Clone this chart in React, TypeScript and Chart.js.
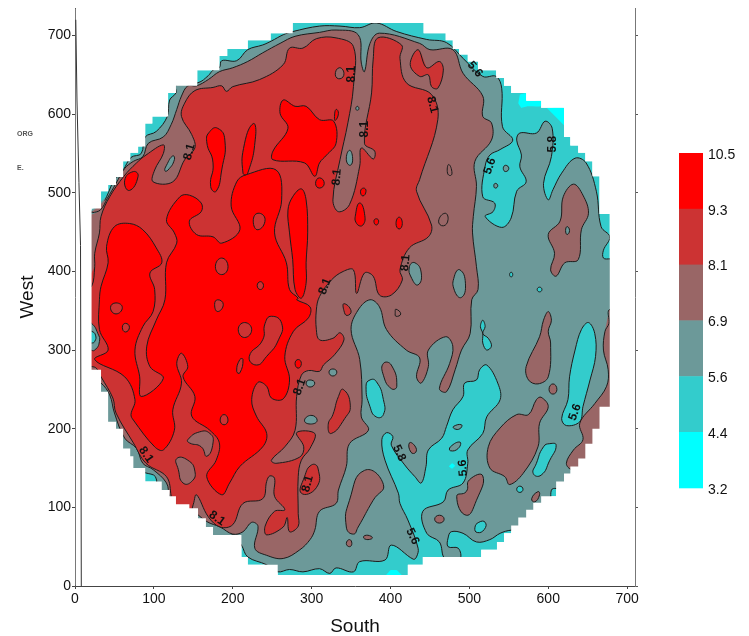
import React, { useEffect, useRef } from "react";
import { Chart, registerables } from "chart.js";

Chart.register(...registerables);

type P = [number, number][];

const xTickLabelFont = "Liberation Sans";
const xTicks = [0, 100, 200, 300, 400, 500, 600, 700];
const yTicks = [0, 100, 200, 300, 400, 500, 600, 700];
const legendValues = ["10.5", "9.3", "8.1", "6.9", "5.6", "4.4", "3.2"];
const C93 = "#FF0000", C81 = "#CC3333", C69 = "#996666", C56 = "#6C9999", C44 = "#33CCCC", C32 = "#00FFFF";
const legendColors = [C93, C81, C69, C56, C44, C32];

const waferEdge: P = [[21,480],[33,480],[33,502],[42,502],[42,510],[52,510],[52,520],[61,520],[61,540],[70,540],[70,551],[80,551],[80,559],[89,559],[89,588],[98,588],[98,597],[118,597],[118,627],[128,627],[128,636],[155,636],[155,656],[183,656],[183,674],[193,674],[193,683],[219,683],[219,694],[248,694],[248,703],[276,703],[276,716],[442,716],[442,703],[470,703],[470,694],[479,694],[479,683],[487,683],[487,676],[498,676],[498,667],[511,667],[511,656],[534,656],[534,646],[544,646],[544,636],[553,636],[553,627],[572,627],[572,617],[591,617],[591,608],[620,608],[620,571],[628,571],[628,560],[638,560],[638,551],[647,551],[647,540],[656,540],[656,521],[665,521],[665,473],[678,473],[678,228],[665,228],[665,200],[656,200],[656,181],[647,181],[647,162],[638,162],[638,152],[628,152],[628,143],[620,143],[620,133],[610,133],[610,114],[591,114],[591,106],[581,106],[581,97],[572,97],[572,87],[562,87],[562,77],[553,77],[553,67],[544,67],[544,56],[535,56],[535,46],[515,46],[515,37],[441,37],[441,27],[422,27],[422,14],[257,14],[257,27],[219,27],[219,37],[211,37],[211,65],[175,65],[175,75],[166,75],[166,86],[156,86],[156,99],[145,99],[145,104],[128,104],[128,114],[120,114],[120,122],[110,122],[110,133],[89,133],[89,150],[74,150],[74,165],[70,165],[70,175],[61,175],[61,200],[52,200],[52,209],[42,209],[42,247],[33,247],[33,275],[21,275],[21,480]];

const leftTrace: P = [[1,720],[2.5,618],[5,513],[7,433],[8,0]];

const cyanPatches: P[] = [
  [[564,625],[572,627],[572,617],[591,617],[591,610],[574,610],[566,608],[562,614]],
  [[598,608],[620,608],[620,586]],
  [[393,12],[400,20],[408,20],[416,12]],
  [[474,152],[478,156],[482,153],[478,149]],
];

const band56: P = [[31,479],[40,495],[50,517],[61,529],[71,545],[84,550],[89,571],[103,578],[117,597],[120,618],[128,627],[128,637],[156,640],[169,649],[175,656],[183,659],[186,668],[205,668],[219,682],[238,688],[249,693],[264,701],[276,705],[310,712],[336,712],[361,710],[382,716],[408,705],[446,695],[471,691],[492,671],[517,648],[534,648],[541,633],[542,584],[555,567],[539,555],[526,548],[520,534],[517,495],[532,487],[530,476],[520,470],[541,456],[553,468],[560,502],[572,514],[564,533],[566,548],[560,567],[564,576],[585,576],[596,591],[605,582],[604,546],[594,512],[600,491],[606,504],[617,525],[634,544],[648,538],[661,502],[667,457],[678,444],[670,427],[670,417],[679,416],[690,416],[692,350],[692,270],[692,190],[690,120],[615,120],[610,124],[604,122],[602,100],[585,85],[565,70],[553,71],[539,67],[526,59],[509,56],[492,67],[477,69],[473,61],[473,50],[486,48],[488,35],[469,35],[462,56],[446,67],[441,95],[467,107],[473,122],[492,131],[498,156],[498,173],[517,194],[522,215],[539,237],[536,258],[522,281],[513,275],[509,262],[494,258],[492,241],[479,224],[471,203],[465,188],[448,173],[445,152],[439,131],[431,139],[418,154],[401,179],[403,190],[395,195],[389,186],[393,160],[410,118],[412,105],[422,84],[435,48],[433,37],[429,34],[401,52],[393,33],[361,31],[353,18],[331,23],[323,16],[310,22],[289,18],[272,21],[257,18],[243,27],[219,37],[211,52],[200,65],[190,55],[170,60],[150,75],[125,95],[105,120],[102,139],[89,144],[85,145],[65,155],[45,195],[25,260],[12,300],[12,380],[12,470],[31,479]];

const lakes44: P[] = [
  [[517,338],[520,330],[517,321],[524,315],[528,305],[522,300],[517,309],[517,321],[514,330],[517,338]],
  [[651,335],[659,321],[660,292],[653,262],[644,228],[640,209],[623,204],[617,213],[625,237],[627,266],[634,300],[642,326],[651,335]],
  [[374,262],[382,260],[391,237],[391,218],[382,215],[374,228],[369,254],[374,262]],
  [[602,181],[610,179],[602,160],[591,141],[581,143],[585,156],[594,177],[602,181]],
  [[564,127],[568,123],[564,119],[560,123],[564,127]],
  [[520,81],[519,72],[510,68],[507,74],[512,81],[520,81]],
  [[553,399],[555,396],[553,393],[551,396],[553,399]],
  [[589,380],[592,377],[589,374],[586,377],[589,380]],
];

const lakeIslands56: P[] = [
  [[480,203],[490,205],[488,200],[481,200],[480,203]],
  [[476,177],[488,183],[486,175],[476,172],[476,177]],
  [[546,535],[550,531],[546,527],[543,531],[546,535]],
  [[533,512],[536,509],[533,506],[531,509],[533,512]],
];

const band69: P = [[32,478],[41,493],[52,512],[63,531],[74,540],[86,546],[93,563],[112,571],[122,587],[129,606],[135,623],[143,636],[154,636],[169,644],[183,654],[200,659],[219,667],[238,678],[260,690],[279,699],[310,704],[331,707],[359,701],[363,665],[367,654],[374,690],[386,703],[437,690],[450,682],[479,682],[492,652],[517,623],[517,597],[528,589],[528,567],[507,540],[509,508],[505,470],[504,449],[509,406],[511,377],[503,364],[501,321],[490,300],[482,275],[471,247],[462,251],[475,283],[479,305],[470,317],[448,300],[448,279],[439,258],[433,266],[437,290],[420,300],[395,326],[386,355],[374,364],[359,351],[350,326],[361,288],[364,237],[363,215],[372,198],[348,181],[344,152],[334,122],[331,105],[310,95],[304,71],[298,59],[285,46],[264,35],[243,39],[228,48],[232,76],[224,81],[213,69],[200,66],[184,75],[167,82],[145,99],[126,107],[120,114],[116,131],[99,148],[86,156],[78,175],[63,188],[50,220],[44,243],[33,258],[25,260],[15,280],[13,380],[15,470],[32,478]];

const islands69: P[] = [
  [[632,511],[644,497],[651,474],[642,453],[638,415],[621,411],[610,394],[603,402],[608,423],[600,447],[615,464],[619,495],[632,511]],
  [[600,349],[604,338],[600,324],[603,309],[600,266],[587,257],[575,262],[572,279],[589,317],[594,338],[600,349]],
  [[677,334],[672,324],[670,300],[676,275],[674,254],[659,232],[640,207],[644,186],[632,173],[623,156],[630,148],[648,152],[691,194],[691,351],[677,351],[677,334]],
  [[591,240],[600,228],[589,207],[587,177],[568,143],[551,129],[545,139],[526,150],[524,177],[539,201],[560,218],[575,218],[585,237],[591,240]],
  [[517,140],[509,109],[496,90],[484,114],[496,120],[500,135],[517,140]],
  [[367,147],[391,129],[378,109],[359,75],[353,66],[344,75],[348,109],[367,147]],
  [[391,283],[401,281],[408,254],[401,251],[391,268],[391,283]],
  [[606,257],[611,250],[606,244],[601,250],[606,257]],
  [[462,90],[468,85],[462,80],[456,85],[462,90]],
  [[587,120],[589,116],[583,107],[579,111],[587,120]],
  [[367,64],[376,63],[376,60],[367,60],[367,64]],
  [[348,59],[351,54],[348,50],[344,54],[348,59]],
  [[424,182],[431,178],[432,170],[426,170],[424,182]],
  [[407,352],[413,346],[407,343],[406,348],[407,352]],
  [[474,536],[478,525],[475,522],[472,527],[474,536]],
  [[469,474],[473,466],[467,458],[461,464],[469,474]],
];

const band81: P = [[21,381],[25,406],[25,423],[31,449],[33,470],[44,495],[62,521],[78,538],[90,548],[112,561],[112,550],[101,529],[99,514],[124,514],[139,542],[152,557],[148,574],[135,597],[139,614],[152,630],[175,634],[186,636],[192,629],[200,635],[234,644],[264,663],[272,684],[289,684],[306,696],[331,697],[353,686],[353,635],[346,589],[336,542],[327,491],[334,476],[348,485],[361,534],[363,557],[378,543],[380,553],[367,563],[376,627],[378,669],[384,697],[414,688],[412,671],[420,640],[452,625],[460,593],[437,517],[433,502],[452,459],[448,444],[424,430],[412,402],[415,389],[401,370],[386,370],[378,394],[367,398],[357,372],[353,402],[340,400],[325,389],[310,368],[306,351],[306,326],[310,313],[327,315],[336,322],[341,313],[329,294],[315,281],[310,273],[296,274],[287,268],[281,241],[279,198],[266,177],[249,160],[255,156],[285,164],[290,177],[281,195],[304,194],[298,175],[287,160],[283,139],[283,92],[283,76],[272,69],[269,87],[264,75],[243,65],[241,76],[253,95],[266,97],[253,114],[253,137],[247,140],[243,133],[238,111],[213,105],[200,78],[184,75],[169,88],[154,116],[150,104],[145,92],[125,92],[122,114],[116,139],[90,156],[74,182],[52,220],[48,239],[33,266],[27,277],[21,279],[12,279],[12,381],[21,381]];

const islands81: P[] = [
  [[435,682],[446,659],[462,667],[467,656],[460,633],[452,635],[448,650],[437,648],[425,663],[435,682]],
  [[300,154],[308,150],[306,125],[287,118],[291,139],[300,154]],
  [[340,250],[349,230],[342,213],[325,194],[321,205],[327,218],[334,241],[340,250]],
  [[341,359],[350,350],[345,344],[341,350],[341,359]],
];

const band93: P = [[40,432],[50,457],[69,461],[86,453],[103,430],[110,411],[95,398],[101,377],[99,349],[86,330],[76,300],[82,266],[84,241],[112,264],[95,279],[91,305],[103,338],[114,364],[116,411],[129,436],[126,449],[116,466],[133,495],[145,497],[160,487],[160,476],[145,464],[154,447],[175,444],[186,436],[209,453],[198,483],[205,514],[217,523],[255,529],[262,491],[253,449],[268,411],[272,377],[283,366],[281,364],[298,355],[296,341],[277,324],[266,292],[272,262],[264,238],[249,239],[243,254],[232,259],[224,237],[230,216],[243,194],[238,177],[209,152],[196,131],[186,116],[167,139],[179,160],[183,182],[171,198],[148,216],[152,241],[137,266],[143,279],[135,296],[129,283],[135,258],[124,224],[126,198],[112,173],[101,177],[74,211],[71,218],[76,237],[63,266],[25,288],[42,300],[31,326],[31,364],[33,381],[42,411],[40,432]];

const islands93: P[] = [
  [[270,478],[276,495],[287,505],[293,491],[295,449],[293,411],[293,385],[287,366],[279,377],[276,415],[272,449],[270,478]],
  [[181,582],[190,567],[186,529],[179,502],[172,508],[175,538],[167,565],[171,578],[181,582]],
  [[226,588],[229,572],[219,525],[213,525],[215,563],[226,588]],
  [[74,527],[80,521],[69,503],[63,516],[74,527]],
  [[264,618],[279,610],[293,610],[310,593],[328,591],[331,563],[319,548],[310,538],[304,521],[291,538],[251,542],[251,553],[270,582],[260,601],[264,618]],
  [[310,519],[316,512],[310,506],[305,512],[310,519]],
  [[331,606],[334,601],[330,592],[329,597],[331,606]],
  [[361,487],[367,474],[365,459],[357,461],[356,474],[361,487]],
  [[366,506],[369,502],[365,496],[362,502],[366,506]],
  [[411,469],[415,461],[411,454],[407,461],[411,469]],
  [[382,467],[385,464],[382,459],[379,464],[382,467]],
  [[283,288],[287,283],[283,277],[279,283],[283,288]],
];

const redHoles81: P[] = [
  [[232,474],[241,466],[232,453],[226,464],[232,474]],
  [[186,417],[194,406],[186,396],[178,406],[186,417]],
  [[235,387],[239,382],[235,377],[231,382],[235,387]],
  [[52,360],[60,354],[52,346],[45,354],[52,360]],
  [[64,334],[69,329],[64,323],[60,329],[64,334]],
  [[181,364],[188,358],[181,349],[177,358],[181,364]],
  [[215,335],[224,326],[215,316],[207,326],[215,335]],
  [[249,343],[262,334],[258,313],[243,292],[230,281],[221,292],[238,313],[241,334],[249,343]],
  [[209,288],[213,288],[209,271],[205,273],[209,288]],
  [[189,218],[194,211],[189,205],[184,211],[189,218]],
];

const wineHoles69: P[] = [
  [[129,162],[143,160],[152,146],[148,133],[137,131],[131,148],[129,162]],
  [[143,186],[158,196],[171,194],[175,182],[167,165],[160,177],[145,182],[143,186]],
  [[335,659],[341,652],[336,645],[330,650],[335,659]],
];

const tealHoles56: P[] = [
  [[348,554],[352,544],[349,535],[344,542],[348,554]],
  [[358,610],[360,607],[358,605],[356,607],[358,610]],
  [[431,411],[439,398],[435,383],[427,391],[424,406],[431,411]],
  [[488,402],[495,385],[490,367],[481,376],[481,394],[488,402]],
  [[298,262],[304,258],[298,253],[293,258],[298,262]],
  [[299,217],[307,211],[300,206],[291,210],[299,217]],
  [[327,276],[332,272],[327,267],[322,272],[327,276]],
  [[622,452],[624,457],[627,452],[624,447],[622,452]],
  [[15,334],[21,334],[29,321],[31,311],[25,300],[19,300],[15,300],[15,334]],
  [[124,547],[126,542],[118,529],[114,528],[116,535],[124,547]],
];

const tealCore44: P[] = [
  [[15,325],[21,324],[26,319],[25,311],[21,309],[15,310],[15,325]],
];

const contourLabels: [number, number, string, number][] = [
  [145,552,"8.1",-75],[351,651,"8.1",-90],[367,581,"8.1",-90],[332,520,"8.1",-85],[453,612,"8.1",75],
  [419,411,"8.1",-85],[317,381,"8.1",-70],[507,657,"5.6",50],[526,534,"5.6",-70],[606,562,"5.8",-90],
  [90,167,"8.1",55],[180,86,"8.1",35],[285,253,"8.1",-70],[295,130,"8.1",-75],[411,169,"5.8",65],
  [492,150,"5.6",-95],[428,63,"5.6",65],[634,221,"5.6",-70],
];

const cornerNotes: [string, number, number][] = [["ORG", 17, 134], ["E.", 17, 168]];

const isClosed = (pts: P) => {
  const n = pts.length;
  return n > 3 && pts[0][0] === pts[n - 1][0] && pts[0][1] === pts[n - 1][1];
};

const LINE = "#1c1c1c";
const HIDDEN = "rgba(0,0,0,0)";

// One dataset fills the shape and a second strokes its contour; the stroke
// carries one wrap-around point at each end so the curve closes smoothly.
const poly = (pts: P, fill: string, line: boolean, tension?: number) => {
  const t = tension ?? (pts.length <= 9 ? 0.55 : 0.38);
  const closed = t > 0 && isClosed(pts);
  const path = closed ? [pts[pts.length - 2], ...pts, pts[1]] : pts;
  const data = path.map(([x, y]) => ({ x, y }));
  const out: any[] = [
    {
      type: "line" as const,
      data,
      fill: "shape",
      backgroundColor: fill,
      borderColor: HIDDEN,
      borderWidth: 0,
      pointRadius: 0,
      tension: t,
      capBezierPoints: false,
    },
  ];
  if (line) {
    const last = path.length - 1;
    out.push({
      type: "line" as const,
      data,
      fill: false,
      borderColor: LINE,
      borderWidth: 1,
      pointRadius: 0,
      tension: t,
      capBezierPoints: false,
      segment: closed
        ? { borderColor: (c: any) => (c.p0DataIndex === 0 || c.p1DataIndex === last ? HIDDEN : LINE) }
        : undefined,
    });
  }
  return out;
};

const maskPath: P = [[1, 480], ...waferEdge, [1, 480], [1, 1], [709, 1], [709, 734], [1, 734], [1, 480]];

const overlay = {
  id: "overlay",
  afterDatasetsDraw(chart: any) {
    const { ctx, scales } = chart;
    ctx.save();
    ctx.fillStyle = "#111";
    ctx.font = `bold 12px "${xTickLabelFont}"`;
    ctx.textAlign = "center";
    ctx.textBaseline = "middle";
    for (const [x, y, t, r] of contourLabels) {
      ctx.save();
      ctx.translate(scales.x.getPixelForValue(x), scales.y.getPixelForValue(y));
      ctx.rotate((r * Math.PI) / 180);
      ctx.fillText(t, 0, 0);
      ctx.restore();
    }
    ctx.restore();

    ctx.save();
    const left = 679, w = 24, top = 153, h = 55.8;
    legendColors.forEach((c, i) => {
      ctx.fillStyle = c;
      ctx.fillRect(left, top + i * h, w, h + 0.5);
    });
    ctx.fillStyle = "#111";
    ctx.font = `14px "${xTickLabelFont}"`;
    ctx.textAlign = "left";
    ctx.textBaseline = "middle";
    legendValues.forEach((t, i) => ctx.fillText(t, 708, top + 2 + i * h));
    ctx.font = `bold 7px "${xTickLabelFont}"`;
    ctx.fillStyle = "#555";
    for (const [t, x, y] of cornerNotes) ctx.fillText(t, x, y);
    ctx.restore();
  },
};

const fixedTicks = (values: number[]) => (s: any) => {
  s.ticks = values.map((value) => ({ value }));
};

export default function App() {
  const ref = useRef<HTMLCanvasElement>(null);
  useEffect(() => {
    if (!ref.current) return;
    const layers = [
      ...poly(waferEdge, C44, false, 0),
      ...cyanPatches.flatMap((p) => poly(p, C32, false, 0.1)),
      ...poly(band56, C56, true),
      ...lakes44.flatMap((p) => poly(p, C44, true)),
      ...lakeIslands56.flatMap((p) => poly(p, C56, true)),
      ...poly(band69, C69, true),
      ...islands69.flatMap((p) => poly(p, C69, true)),
      ...poly(band81, C81, true),
      ...islands81.flatMap((p) => poly(p, C81, true)),
      ...poly(band93, C93, true),
      ...islands93.flatMap((p) => poly(p, C93, true)),
      ...redHoles81.flatMap((p) => poly(p, C81, true)),
      ...wineHoles69.flatMap((p) => poly(p, C69, true)),
      ...tealHoles56.flatMap((p) => poly(p, C56, true)),
      ...tealCore44.flatMap((p) => poly(p, C44, true)),
      ...poly(maskPath, "#FFFFFF", false, 0),
    ];
    const trace = {
      type: "line" as const,
      data: leftTrace.map(([x, y]) => ({ x, y })),
      fill: false,
      borderColor: "#333333",
      borderWidth: 1,
      pointRadius: 0,
      tension: 0,
    };
    // Chart.js paints the first dataset on top, so the paint order is reversed.
    const datasets = [...layers, trace].reverse();
    const tick = { color: "#111111", font: { family: xTickLabelFont, size: 14 } };
    const chart = new Chart(ref.current, {
      type: "line",
      data: { datasets: datasets as any },
      plugins: [overlay],
      options: {
        animation: false,
        responsive: false,
        events: [],
        layout: { padding: { top: 8, left: 0, right: 0, bottom: 0 } },
        plugins: { legend: { display: false }, tooltip: { enabled: false }, title: { display: false } },
        scales: {
          x: {
            type: "linear",
            min: 0,
            max: 710,
            afterBuildTicks: fixedTicks(xTicks),
            afterFit: (s: any) => { s.height = 50; s.paddingLeft = 0; s.paddingRight = 0; },
            border: { color: "#444444", width: 1 },
            grid: { drawOnChartArea: false, tickLength: 3, color: "#444444" },
            ticks: { ...tick, maxRotation: 0, padding: 2, autoSkip: false },
            title: { display: true, text: "South", color: "#111111", font: { family: xTickLabelFont, size: 19, lineHeight: 1 }, padding: { top: 0, bottom: 0 } },
          },
          y: {
            type: "linear",
            min: 0,
            max: 735,
            afterBuildTicks: fixedTicks(yTicks),
            afterFit: (s: any) => { s.width = 75; s.paddingTop = 0; s.paddingBottom = 0; },
            border: { color: "#555555", width: 1 },
            grid: { drawOnChartArea: false, tickLength: 3, color: "#444444" },
            ticks: { ...tick, padding: 1, autoSkip: false },
            title: { display: true, text: "West", color: "#111111", font: { family: xTickLabelFont, size: 19 }, padding: { top: 16, bottom: 0 } },
          },
          y2: {
            type: "linear",
            position: "right",
            min: 0,
            max: 735,
            afterBuildTicks: fixedTicks(yTicks),
            afterFit: (s: any) => { s.width = 114; s.paddingTop = 0; s.paddingBottom = 0; },
            border: { color: "#777777", width: 1 },
            grid: { drawOnChartArea: false, tickLength: 3, color: "#555555" },
            ticks: { display: false },
          },
        },
      } as any,
    });
    return () => chart.destroy();
  }, []);
  return (
    <div style={{ position: "fixed", left: 0, top: 0, width: 749, height: 636, background: "#fff" }}>
      <canvas ref={ref} width={749} height={636} style={{ display: "block" }} />
    </div>
  );
}
